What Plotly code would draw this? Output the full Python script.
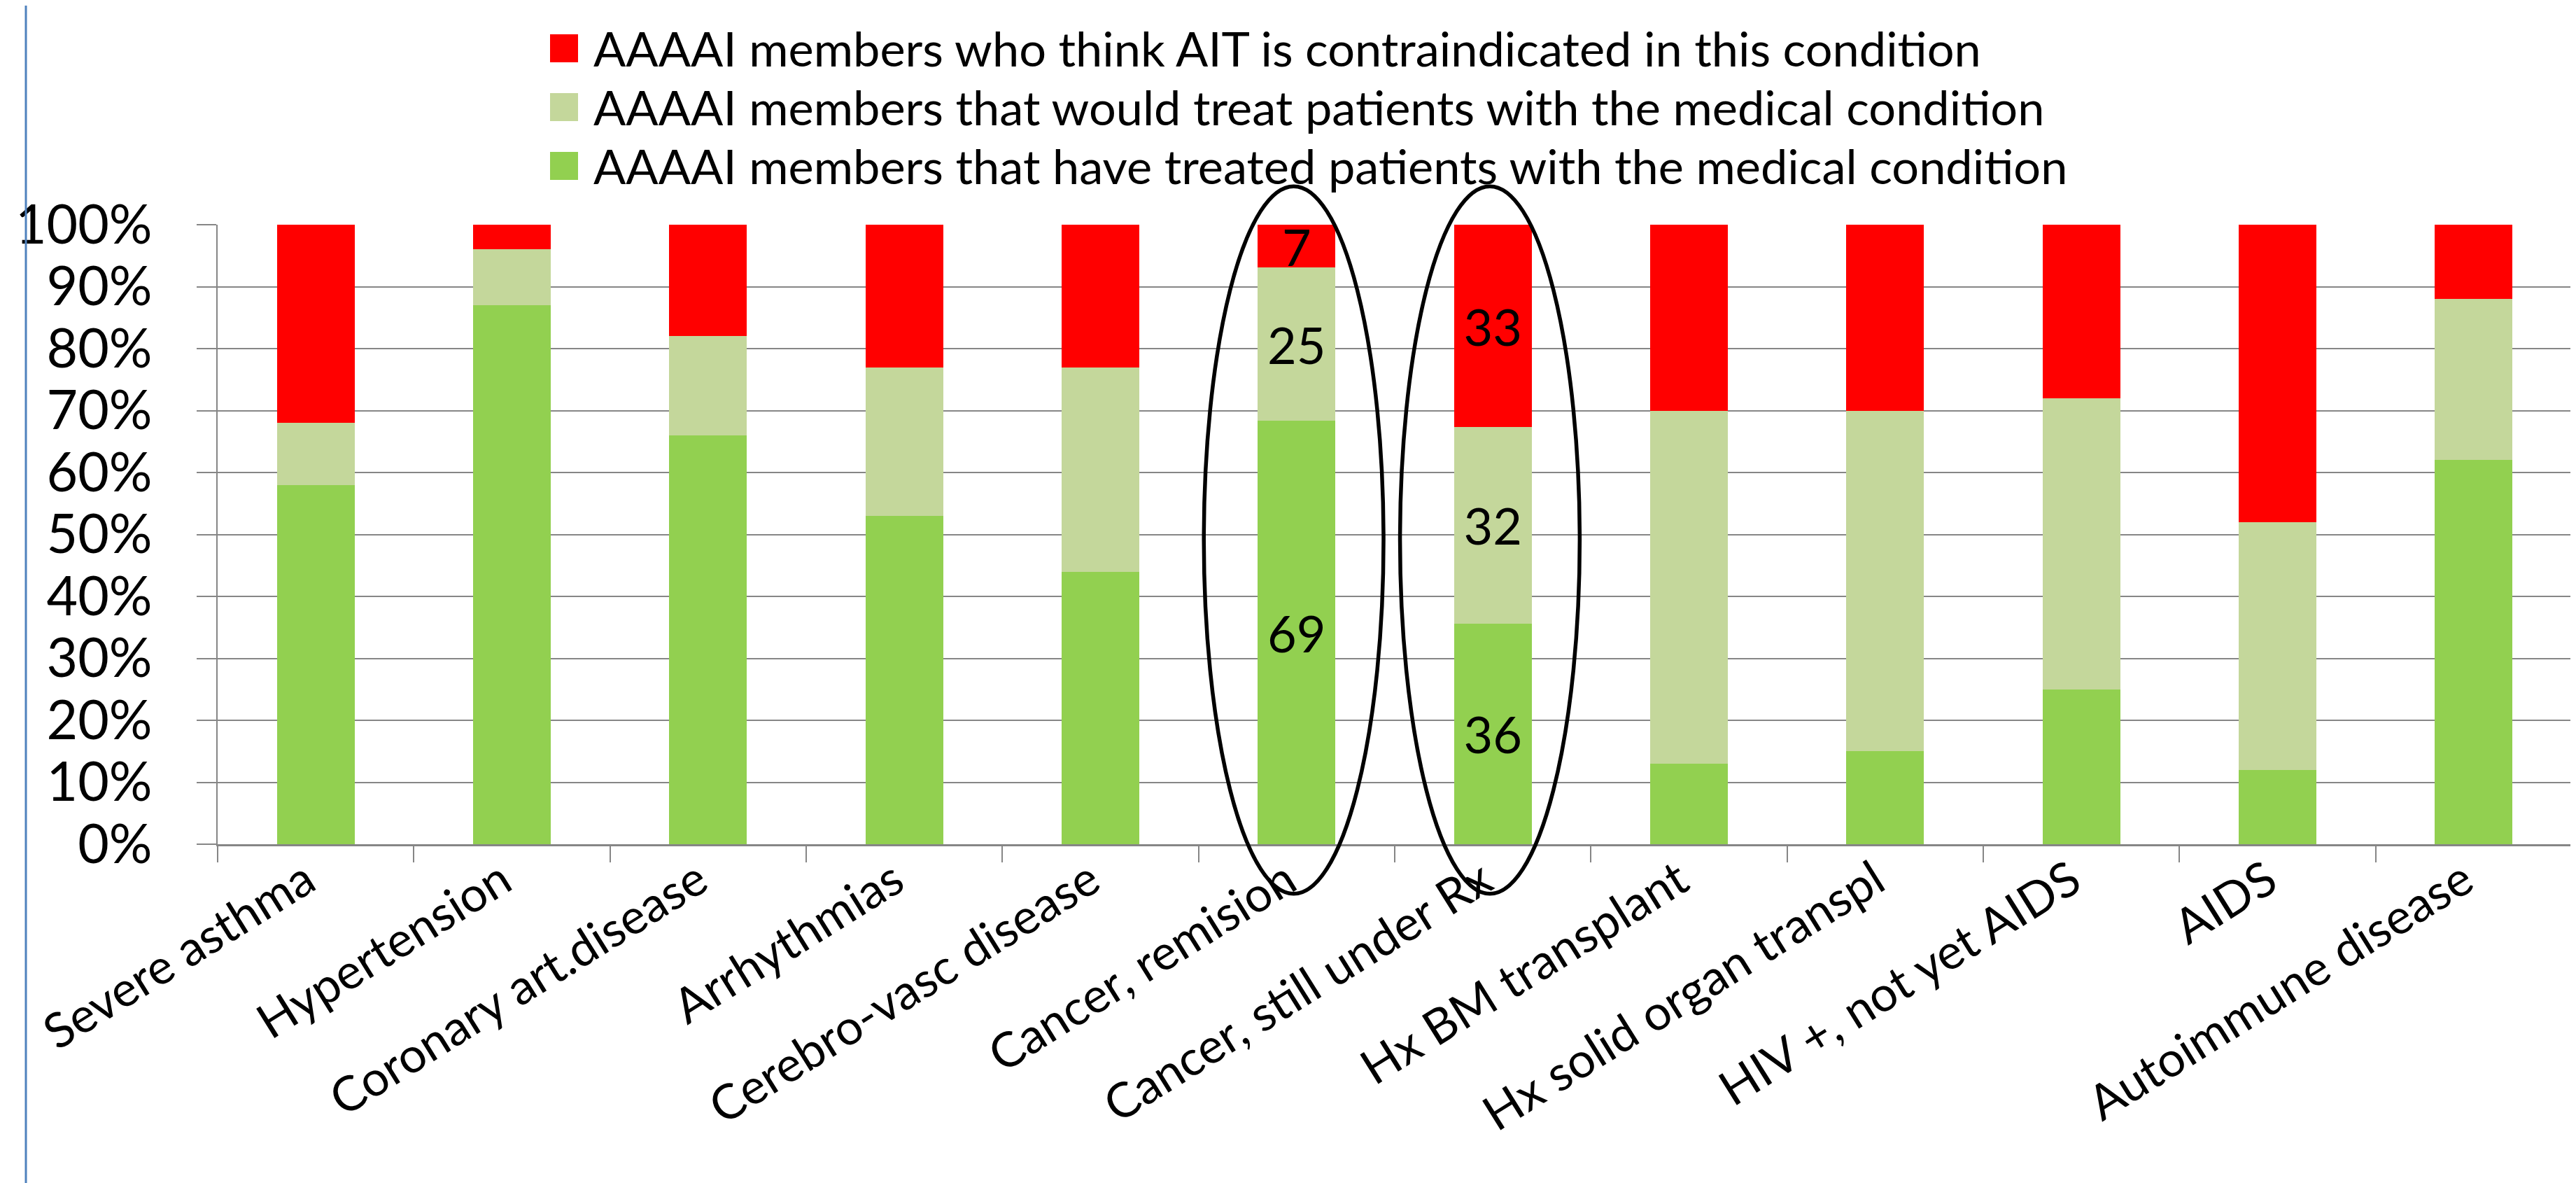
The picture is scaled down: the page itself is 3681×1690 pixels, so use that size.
import plotly.graph_objects as go

# ---------------- data ----------------
categories = ["Severe asthma", "Hypertension", "Coronary art.disease", "Arrhythmias",
              "Cerebro-vasc disease", "Cancer, remision", "Cancer, still under Rx",
              "Hx BM transplant", "Hx solid organ transpl", "HIV +, not yet AIDS",
              "AIDS", "Autoimmune disease"]
have_treated = [58, 87, 66, 53, 44, 69, 36, 13, 15, 25, 12, 62]
would_treat = [10, 9, 16, 24, 33, 25, 32, 57, 55, 47, 40, 26]
contraindicated = [32, 4, 18, 23, 23, 7, 33, 30, 30, 28, 48, 12]
labelled = ["Cancer, remision", "Cancer, still under Rx"]

series_names = ["AAAAI members who think AIT is contraindicated in this condition",
                "AAAAI members that would treat patients with the medical condition",
                "AAAAI members that have treated patients with the medical condition"]
series_colors = ["#FF0000", "#C4D79B", "#92D050"]
y_ticks = list(range(0, 101, 10))

# ---------------- layout constants ----------------
W, H = 3681, 1690
OFF = 8  # page body margin
L, R, T, B = 311 - OFF, 6 + OFF, 321 - OFF, 484 + OFF
FONT = "Lato"


def xp(px):
    # px given in window (reference) pixels
    return (px - OFF - L) / (W - L - R)


def yp(py):
    return (H - B - (py - OFF)) / (H - T - B)


def txt(values, cats):
    return [str(v) if c in labelled else "" for v, c in zip(values, cats)]


fig = go.Figure()
stack = [(have_treated, series_colors[2], series_names[2]),
         (would_treat, series_colors[1], series_names[1]),
         (contraindicated, series_colors[0], series_names[0])]
for vals, col, name in stack:
    fig.add_trace(go.Bar(
        x=categories, y=vals, name=name, marker=dict(color=col, line=dict(width=0)),
        text=txt(vals, categories), textposition="inside", insidetextanchor="middle",
        textangle=0, constraintext="none",
        textfont=dict(family=FONT, size=72, color="black"),
        showlegend=False, hoverinfo="x+y+name"))

shapes = []
annotations = []

# ellipses around highlighted categories
n = len(categories)
for c in labelled:
    i = categories.index(c)
    cx = i + 0.5 - 0.015
    shapes.append(dict(type="circle", xref="paper", yref="paper",
                       x0=(cx - 0.458) / n, x1=(cx + 0.458) / n,
                       y0=-0.08, y1=1.062,
                       line=dict(color="black", width=5.5), fillcolor="rgba(0,0,0,0)"))

# manual legend
row_centers = [69, 153, 237]
for name, col, yc in zip(series_names, series_colors, row_centers):
    shapes.append(dict(type="rect", xref="paper", yref="paper",
                       x0=xp(786), x1=xp(826), y0=yp(yc + 20), y1=yp(yc - 20),
                       line=dict(width=0), fillcolor=col))
    annotations.append(dict(xref="paper", yref="paper", x=xp(846), y=yp(yc - 1),
                            xanchor="left", yanchor="middle", showarrow=False,
                            text=name, font=dict(family=FONT, size=68.5, color="black")))

# blue frame edges
for bx in (37, 3679):
    shapes.append(dict(type="line", xref="paper", yref="paper",
                       x0=xp(bx), x1=xp(bx), y0=yp(0), y1=yp(H),
                       line=dict(color="#4F81BD", width=3)))

fig.update_layout(
    width=W, height=H, barmode="stack", barnorm="percent", bargap=0.604,
    paper_bgcolor="white", plot_bgcolor="white",
    margin=dict(l=L, r=R, t=T, b=B, pad=0, autoexpand=False),
    font=dict(family=FONT, color="black"),
    shapes=shapes, annotations=annotations, showlegend=False,
)
fig.update_xaxes(type="category", tickangle=-32, tickson="boundaries", automargin=False,
                 ticks="outside", ticklen=23, tickwidth=2, tickcolor="#868686",
                 showline=True, linecolor="#868686", linewidth=2.5,
                 ticklabelshift=-14, ticklabelstandoff=-18,
                 showgrid=False, tickfont=dict(family=FONT, size=69, color="black"))
fig.update_yaxes(range=[0, 100], tickvals=y_ticks, ticktext=[f"{v}%" for v in y_ticks],
                 automargin=False,
                 ticks="outside", ticklen=28, tickwidth=2, tickcolor="#868686",
                 showline=True, linecolor="#868686", linewidth=2,
                 showgrid=True, gridcolor="#868686", gridwidth=2, zeroline=False,
                 ticklabelstandoff=48,
                 tickfont=dict(family=FONT, size=77, color="black"))

fig.write_html("out.html")
